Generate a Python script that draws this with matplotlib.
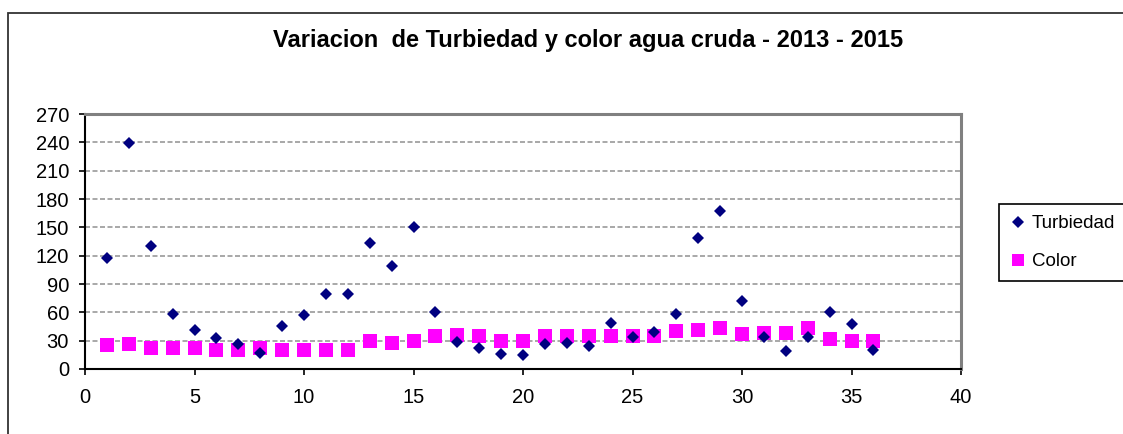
import numpy as np
import matplotlib.pyplot as plt
from matplotlib.patches import Rectangle

plt.rcParams['font.family'] = ['Liberation Sans', 'DejaVu Sans']

muestra = np.arange(1, 37)
turbiedad = [118, 239, 130, 58, 41, 33, 26, 17, 46, 57, 79, 79,
             133, 109, 150, 60, 29, 22, 16, 15, 27, 28, 24, 49,
             34, 39, 58, 139, 167, 72, 34, 19, 34, 60, 48, 20]
color = [25, 27, 22, 22, 22, 20, 20, 22, 20, 20, 20, 20,
         30, 28, 30, 35, 36, 35, 30, 30, 35, 35, 35, 35,
         35, 35, 40, 41, 43, 37, 38, 38, 43, 32, 30, 30]

y_ticks = np.arange(0, 271, 30)
x_ticks = np.arange(0, 41, 5)

fig = plt.figure(figsize=(11.23, 4.34), dpi=100)
ax = fig.add_axes([85/1123, 65/434, 876/1123, 255/434])

# marco exterior del grafico
fig.patches.append(Rectangle((8/1123, -0.2), 1.2, 1 - 13/434 + 0.2,
                             transform=fig.transFigure, fill=False,
                             edgecolor='#333333', linewidth=1.3,
                             clip_on=False))

ax.plot(muestra, turbiedad, linestyle='none', marker='D', markersize=6.6,
        color='#000080', markeredgewidth=0, label='Turbiedad', zorder=3)
ax.plot(muestra, color, linestyle='none', marker='s', markersize=9.5,
        color='#FF00FF', markeredgewidth=0, label='Color', zorder=2)

ax.set_xlim([0, 40])
ax.set_ylim([0, 270])
ax.set_xticks(x_ticks)
ax.set_yticks(y_ticks)
ax.tick_params(axis='both', labelsize=14.5, direction='out', length=4.5,
               width=1.2, color='black')
ax.tick_params(axis='x', pad=9)
ax.tick_params(axis='y', pad=7)

ax.grid(True, axis='y', color='#999999', linestyle=(0, (3, 1.5)),
        linewidth=1.2, zorder=0)

for lado in ['top', 'right']:
    ax.spines[lado].set_color('#808080')
    ax.spines[lado].set_linewidth(2.2)
for lado in ['left', 'bottom']:
    ax.spines[lado].set_color('black')
    ax.spines[lado].set_linewidth(1.5)

fig.text(588/1123, 1 - 41/434,
         'Variacion  de Turbiedad y color agua cruda - 2013 - 2015',
         ha='center', va='center', fontsize=17, fontweight='bold')

leg = fig.legend(loc='upper left', bbox_to_anchor=(999/1123, 1 - 204/434),
                 fontsize=13.5, frameon=True, fancybox=False,
                 edgecolor='black', framealpha=1, handlelength=0.8,
                 handletextpad=0.35, labelspacing=1.1, borderpad=0.6,
                 borderaxespad=0, markerscale=0.85)
leg.get_frame().set_linewidth(1.2)

fig.savefig('out.png', dpi=100)
plt.close(fig)
